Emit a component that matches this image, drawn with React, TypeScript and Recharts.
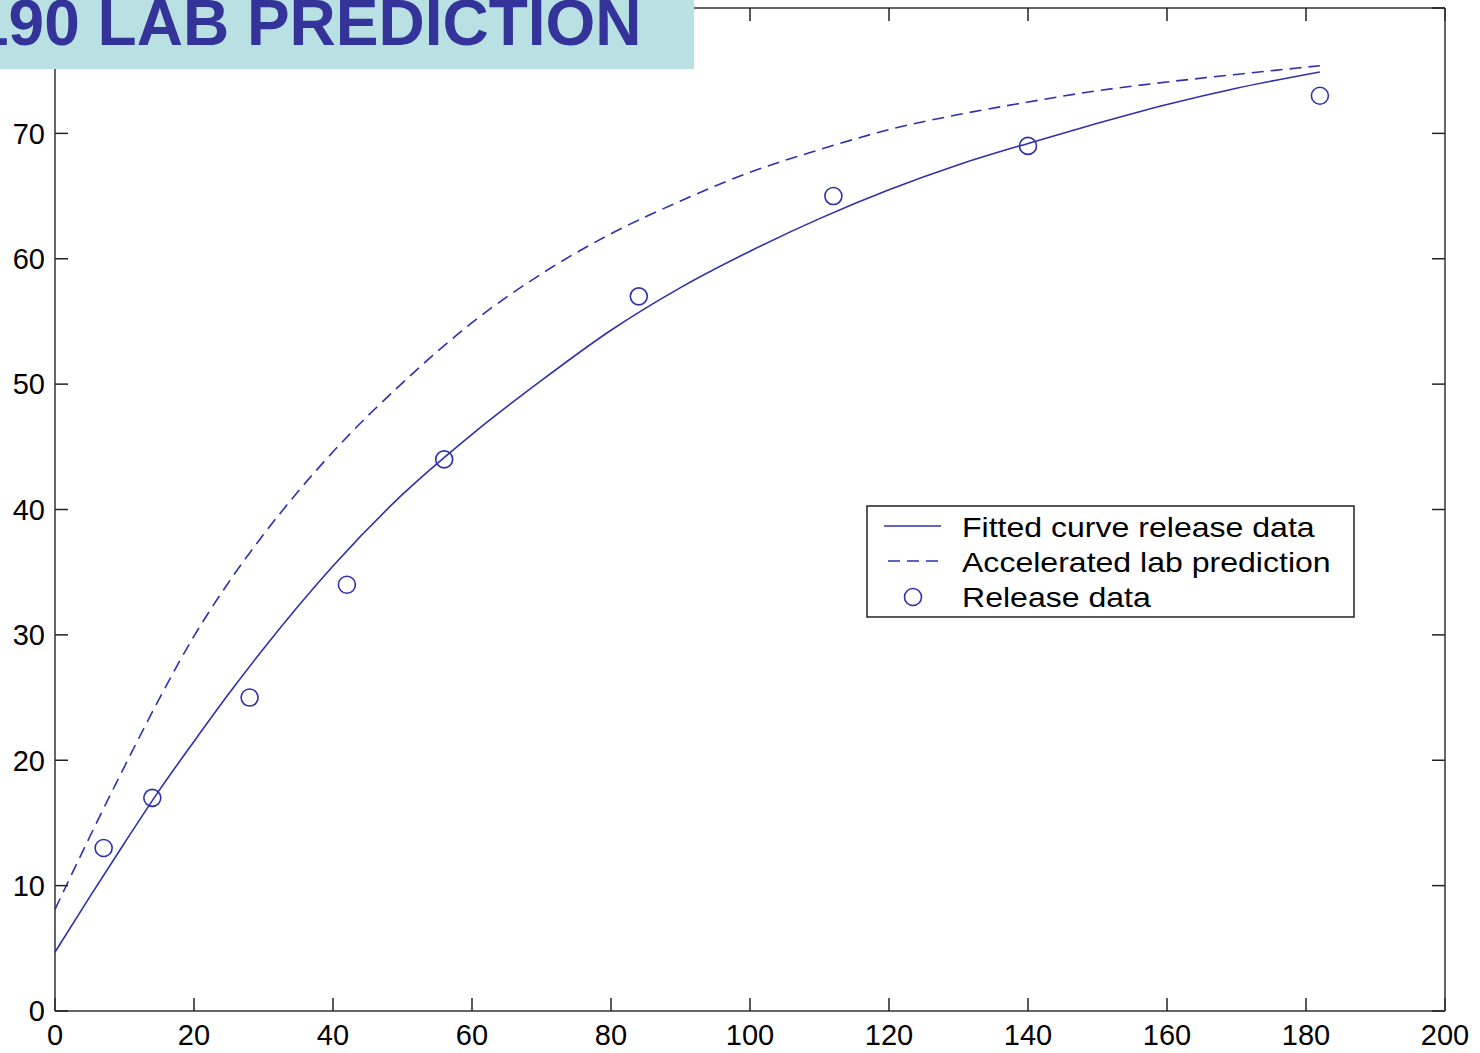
import { ComposedChart, Line, Scatter, XAxis, YAxis, Legend } from 'recharts'

// days on the x axis, release % on the y axis
const curveDays = [0, 5, 10, 15, 20, 25, 30, 40, 50, 60, 70, 80, 90, 100, 110, 120, 130, 140, 150, 160, 170, 182]
const fittedRelease = [4.7, 9.1, 13.4, 17.6, 21.5, 25.3, 28.9, 35.5, 41.2, 46.0, 50.3, 54.3, 57.7, 60.6, 63.2, 65.5, 67.5, 69.2, 70.8, 72.3, 73.6, 74.9]
const labPrediction = [8.1, 13.9, 19.5, 24.9, 29.9, 34.2, 38.0, 44.6, 50.1, 54.9, 58.8, 62.0, 64.6, 66.9, 68.7, 70.3, 71.5, 72.5, 73.4, 74.1, 74.7, 75.4]

const releaseDays = [7, 14, 28, 42, 56, 84, 112, 140, 182]
const releaseValues = [13, 17, 25, 34, 44, 57, 65, 69, 73]

const xTicks = [0, 20, 40, 60, 80, 100, 120, 140, 160, 180, 200]
const yTicks = [0, 10, 20, 30, 40, 50, 60, 70, 80]

const legendLabels = ['Fitted curve release data', 'Accelerated lab prediction', 'Release data']
const titleText = '190 LAB PREDICTION'

const fitData = curveDays.map((x, i) => ({ x, y: fittedRelease[i] }))
const labData = curveDays.map((x, i) => ({ x, y: labPrediction[i] }))
const releaseData = releaseDays.map((x, i) => ({ x, y: releaseValues[i] }))

const BLUE = '#2f2fb0'
const FONT = '"Liberation Sans", Arial, Helvetica, sans-serif'
const tickStyle = { fill: '#000', fontSize: 29, fontFamily: FONT }
const axisLine = { stroke: '#333', strokeWidth: 1.5 }
const tickLine = { stroke: '#222', strokeWidth: 1.5 }
const noLabel = () => ''

const Ring = (props: any) => {
  const { cx, cy } = props
  if (cx == null || cy == null) return null
  return <circle cx={cx} cy={cy} r={8.5} fill='none' stroke={BLUE} strokeWidth={1.6} />
}

const LegendBox = () => (
  <svg width={489} height={113} style={{ display: 'block' }}>
    <rect x={1} y={1} width={487} height={111} fill='#fff' stroke='#222' strokeWidth={1.5} />
    <line x1={18} x2={75} y1={21} y2={21} stroke={BLUE} strokeWidth={1.6} />
    <line x1={22} x2={76} y1={56} y2={56} stroke={BLUE} strokeWidth={1.6} strokeDasharray='12 7' />
    <circle cx={47} cy={92} r={8.5} fill='none' stroke={BLUE} strokeWidth={1.6} />
    {legendLabels.map((t, i) => (
      <text
        key={t}
        transform={`translate(96,${32 + i * 35}) scale(1.145,1)`}
        fontSize={28}
        fontFamily={FONT}
        fill='#000'
      >
        {t}
      </text>
    ))}
  </svg>
)

export default function App() {
  return (
    <div style={{ position: 'absolute', left: 0, top: 0, width: 1480, height: 1053, background: '#fff' }}>
      <ComposedChart width={1480} height={1053} margin={{ top: 7, right: 34, bottom: 0, left: 0 }}>
        <XAxis
          xAxisId='bottom'
          dataKey='x'
          type='number'
          domain={[0, 200]}
          ticks={xTicks}
          interval={0}
          height={42}
          tick={tickStyle}
          tickSize={-13}
          tickMargin={26}
          axisLine={axisLine}
          tickLine={tickLine}
        />
        <XAxis
          xAxisId='top'
          orientation='top'
          dataKey='x'
          type='number'
          domain={[0, 200]}
          ticks={xTicks}
          interval={0}
          height={1}
          tickFormatter={noLabel}
          tickSize={-13}
          axisLine={axisLine}
          tickLine={tickLine}
        />
        <YAxis
          yAxisId='left'
          type='number'
          domain={[0, 80]}
          ticks={yTicks}
          interval={0}
          width={55}
          tick={tickStyle}
          tickFormatter={(v: number) => (v === 80 ? '' : String(v))}
          tickSize={-13}
          tickMargin={23}
          axisLine={axisLine}
          tickLine={tickLine}
        />
        <YAxis
          yAxisId='right'
          orientation='right'
          type='number'
          domain={[0, 80]}
          ticks={yTicks}
          interval={0}
          width={1}
          tickFormatter={noLabel}
          tickSize={-13}
          axisLine={axisLine}
          tickLine={tickLine}
        />
        <Line
          xAxisId='bottom'
          yAxisId='left'
          data={fitData}
          dataKey='y'
          type='monotone'
          stroke={BLUE}
          strokeWidth={1.6}
          dot={false}
          isAnimationActive={false}
        />
        {/* same domains and ranges as bottom/left, so it also feeds the mirrored box axes */}
        <Line
          xAxisId='top'
          yAxisId='right'
          data={labData}
          dataKey='y'
          type='monotone'
          stroke={BLUE}
          strokeWidth={1.6}
          strokeDasharray='12 7'
          dot={false}
          isAnimationActive={false}
        />
        <Scatter
          xAxisId='bottom'
          yAxisId='left'
          data={releaseData}
          dataKey='y'
          shape={Ring}
          isAnimationActive={false}
        />
        <Legend
          layout='horizontal'
          verticalAlign='middle'
          content={LegendBox}
          wrapperStyle={{ left: 866, top: 505, width: 489, height: 113 }}
        />
      </ComposedChart>
      <svg width={694} height={69} style={{ position: 'absolute', left: 0, top: 0, zIndex: 2 }}>
        <rect x={0} y={0} width={694} height={69} fill='#b9e0e3' />
        <text x={-27} y={45} fontSize={64} fontWeight='bold' fontFamily={FONT} fill='#333399'>
          {titleText}
        </text>
      </svg>
    </div>
  )
}
